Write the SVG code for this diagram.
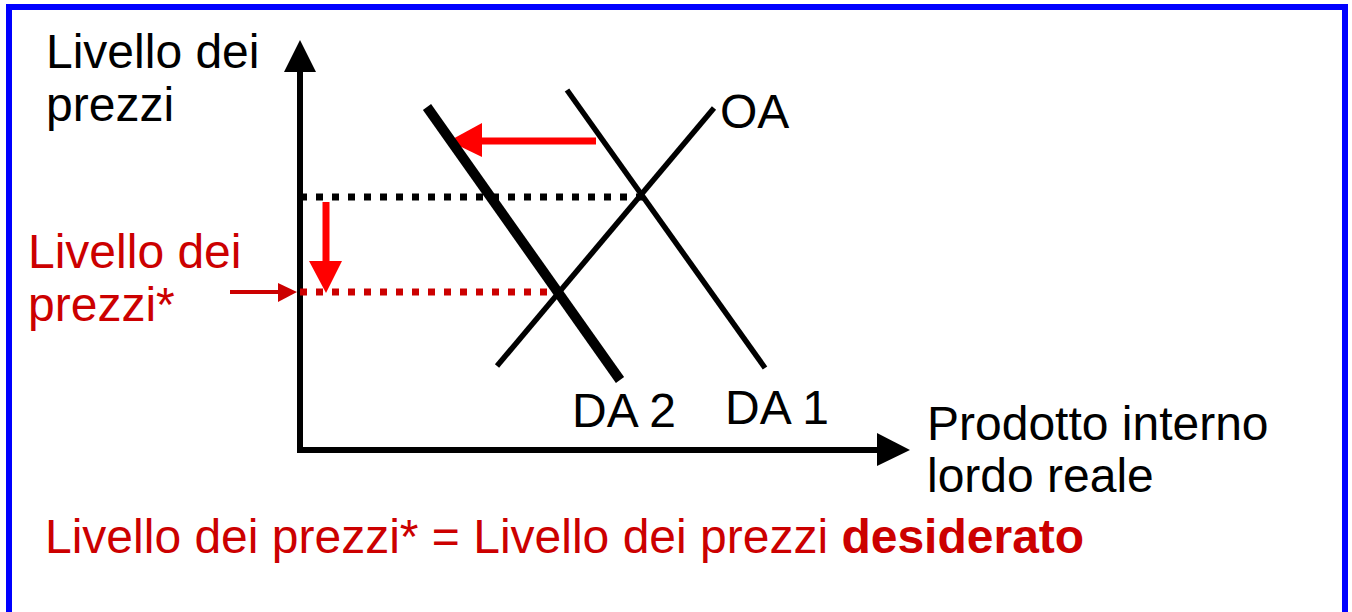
<svg xmlns="http://www.w3.org/2000/svg" width="1352" height="612" viewBox="0 0 1352 612">
<style>
text{font-family:"Liberation Sans",Arial,sans-serif;font-size:48px}
.k{fill:#000}
.r{fill:#CC0000}
.b{font-weight:bold}
</style>
<rect x="0" y="0" width="1352" height="612" fill="#fff"/>
<rect x="9" y="7" width="1336" height="640" fill="none" stroke="#0000FF" stroke-width="6"/>
<g id="axes">
<line x1="300" y1="70" x2="300" y2="453" stroke="#000" stroke-width="6"/>
<polygon points="284,72 316,72 300,40" fill="#000"/>
<line x1="297" y1="450" x2="880" y2="450" stroke="#000" stroke-width="6"/>
<polygon points="877,433 877,466 910,450" fill="#000"/>
</g>
<g id="connectors">
<line x1="300" y1="197" x2="643" y2="197" stroke="#000" stroke-width="7" stroke-dasharray="7 9"/>
<line x1="300" y1="292" x2="560" y2="292" stroke="#CC0000" stroke-width="7" stroke-dasharray="7 9"/>
<line x1="326" y1="202" x2="326" y2="264" stroke="#FF0000" stroke-width="7"/>
<polygon points="309,261 342,261 326,293" fill="#FF0000"/>
<line x1="596" y1="141" x2="480" y2="141" stroke="#FF0000" stroke-width="7"/>
<polygon points="482,123 482,157 449,141" fill="#FF0000"/>
<line x1="230" y1="292" x2="280" y2="292" stroke="#CC0000" stroke-width="4"/>
<polygon points="278,283 278,302 297,292" fill="#CC0000"/>
</g>
<g id="DA2"><line x1="427" y1="107" x2="620" y2="380" stroke="#000" stroke-width="10"/></g>
<g id="DA1"><line x1="567" y1="90" x2="765" y2="368" stroke="#000" stroke-width="5.5"/></g>
<g id="OA"><line x1="497" y1="366" x2="714" y2="108" stroke="#000" stroke-width="5.5"/></g>
<g id="labels">
<text class="k" x="46" y="68">Livello dei</text>
<text class="k" x="46" y="121">prezzi</text>
<text class="k" x="720" y="128">OA</text>
<text class="k" x="572" y="427">DA 2</text>
<text class="k" x="725" y="424">DA 1</text>
<text class="k" x="927" y="440">Prodotto interno</text>
<text class="k" x="927" y="492">lordo reale</text>
<text class="r" x="28" y="268">Livello dei</text>
<text class="r" x="28" y="321">prezzi*</text>
<text class="r" x="45" y="553">Livello dei prezzi* = Livello dei prezzi <tspan class="b">desiderato</tspan></text>
</g>
</svg>
